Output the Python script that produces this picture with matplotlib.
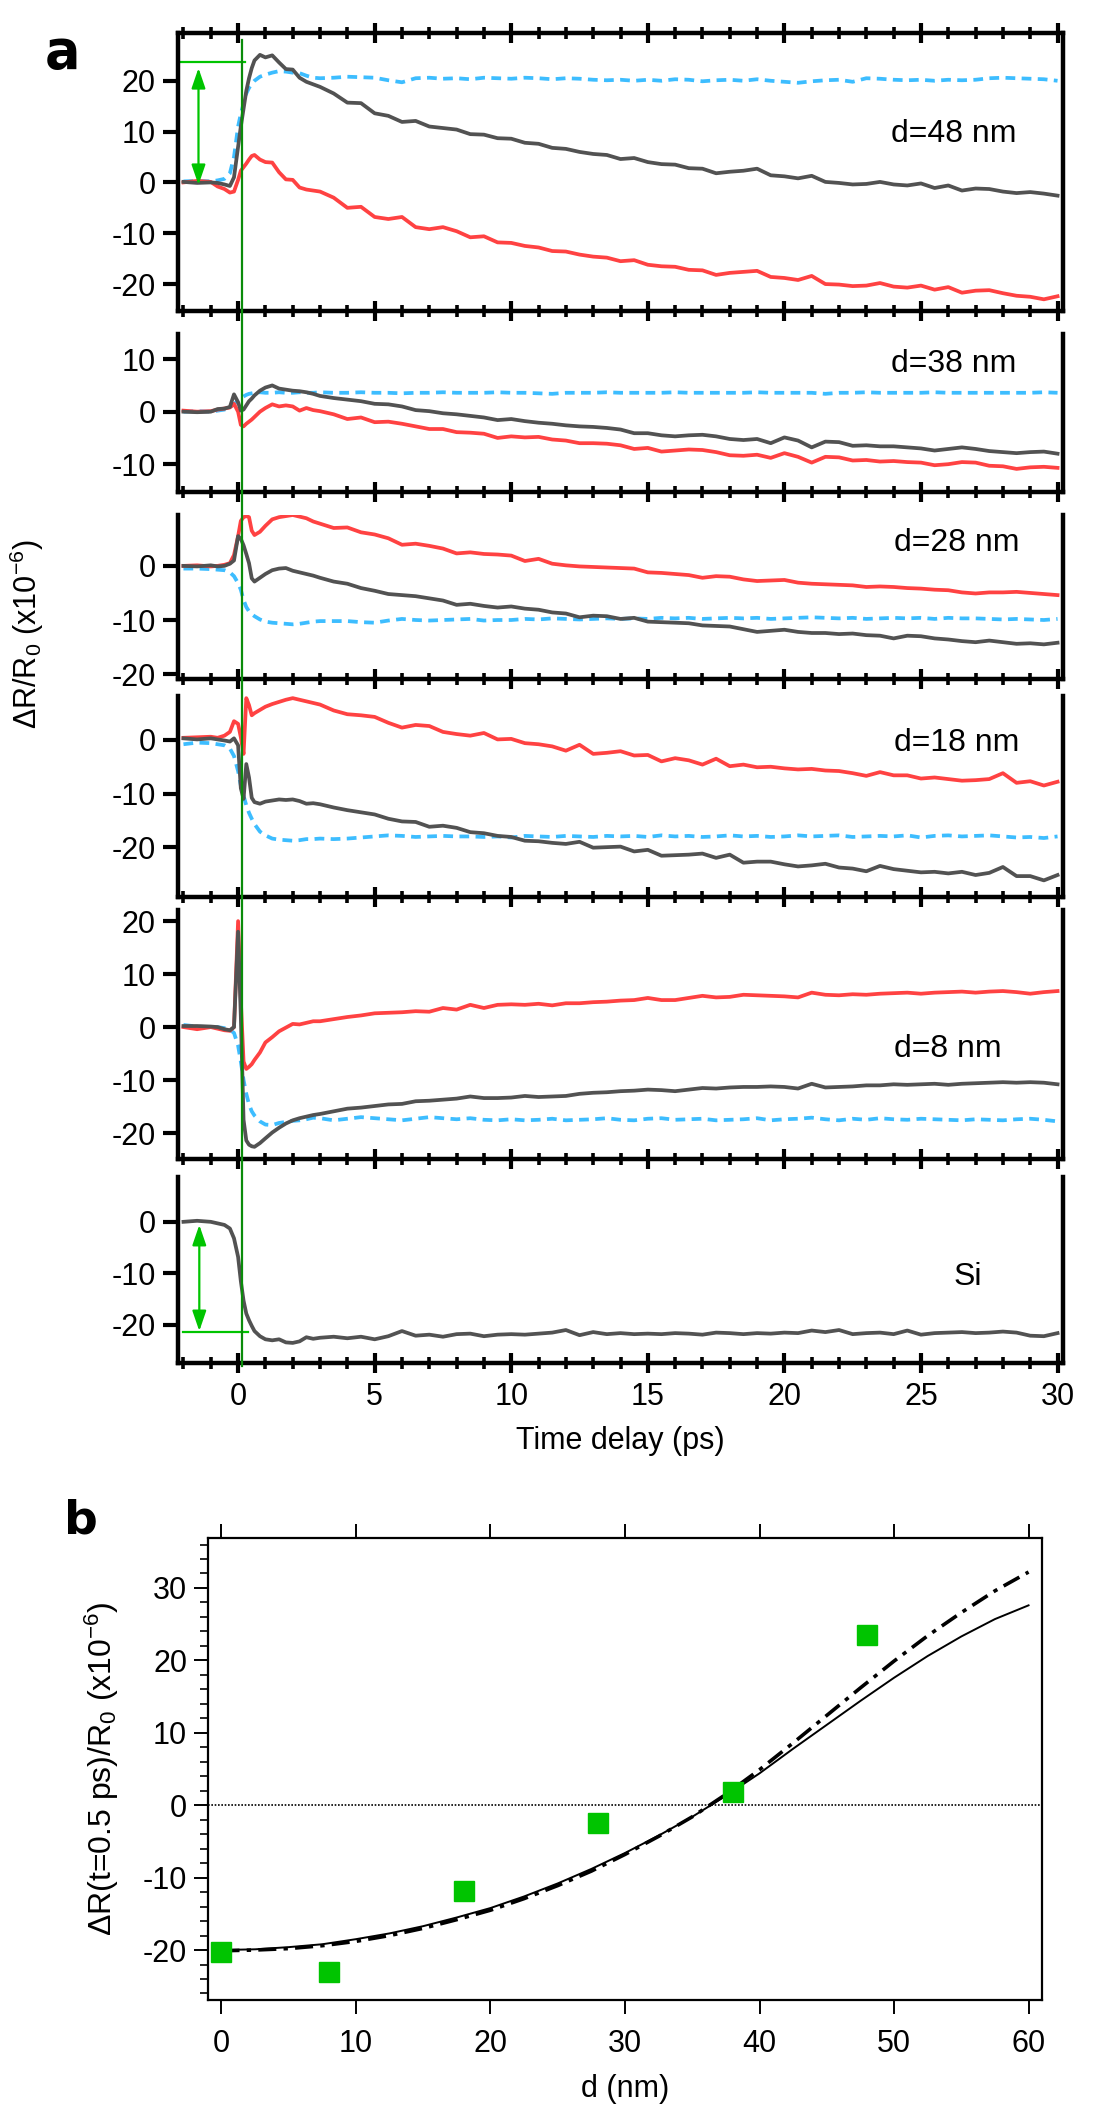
import matplotlib
matplotlib.use("Agg")
from matplotlib import pyplot as plt
from matplotlib.ticker import MultipleLocator
from matplotlib.lines import Line2D
from matplotlib.transforms import blended_transform_factory

plt.rcParams['font.family'] = ['Liberation Sans', 'DejaVu Sans']
plt.rcParams['mathtext.fontset'] = 'custom'
plt.rcParams['mathtext.rm'] = 'Liberation Sans'
plt.rcParams['mathtext.it'] = 'Liberation Sans:italic'
plt.rcParams['axes.unicode_minus'] = False

# ---------------- data, panel a (time traces) ----------------
time_ps = [-2.0, -1.5, -1.0, -0.75, -0.5, -0.3, -0.15, 0.0, 0.1, 0.2, 0.3, 0.4,
           0.5, 0.6, 0.8, 1.0, 1.25, 1.5, 1.75, 2.0, 2.25, 2.5, 2.75, 3.0,
           3.5, 4.0, 4.5, 5.0, 5.5, 6.0, 6.5, 7.0, 7.5, 8.0,
           8.5, 9.0, 9.5, 10.0, 10.5, 11.0, 11.5, 12.0, 12.5, 13.0,
           13.5, 14.0, 14.5, 15.0, 15.5, 16.0, 16.5, 17.0, 17.5, 18.0,
           18.5, 19.0, 19.5, 20.0, 20.5, 21.0, 21.5, 22.0, 22.5, 23.0,
           23.5, 24.0, 24.5, 25.0, 25.5, 26.0, 26.5, 27.0, 27.5, 28.0,
           28.5, 29.0, 29.5, 30.0]

# d = 48 nm
gray_48 = [0.1, -0.1, 0.0, -0.1, -0.4, -0.7, 1.0, 7.0, 11.0, 14.5, 18.0, 20.5,
           22.5, 24.0, 25.1, 24.6, 25.0, 23.6, 22.3, 22.2, 20.6, 19.8, 19.3, 18.8,
           17.5, 15.7, 15.6, 13.6, 13.1, 11.9, 12.1, 11.0, 10.7, 10.4,
           9.5, 9.4, 8.7, 8.6, 7.8, 7.6, 6.8, 6.6, 6.0, 5.6,
           5.4, 4.6, 4.8, 4.0, 3.6, 3.5, 2.8, 2.7, 1.8, 2.1,
           2.3, 2.7, 1.4, 1.2, 0.8, 1.3, 0.1, -0.1, -0.4, -0.3,
           0.1, -0.4, -0.6, -0.2, -1.1, -0.6, -1.6, -1.2, -1.3, -1.8,
           -2.1, -1.9, -2.2, -2.6]
red_48 = [0.0, 0.3, 0.1, -0.8, -1.3, -2.0, -1.8, 0.5, 2.3, 3.0, 3.7, 4.5,
          5.2, 5.4, 4.5, 4.0, 3.9, 2.0, 0.6, 0.5, -1.0, -1.4, -1.6, -1.8,
          -3.0, -5.0, -4.8, -6.8, -7.2, -6.8, -8.8, -9.2, -8.8, -9.6,
          -10.8, -10.6, -11.8, -11.9, -12.5, -12.8, -13.5, -13.6, -14.2, -14.6,
          -14.8, -15.5, -15.3, -16.2, -16.5, -16.6, -17.2, -17.3, -18.2, -17.8,
          -17.6, -17.4, -18.6, -18.8, -19.2, -18.4, -20.0, -20.1, -20.4, -20.3,
          -19.8, -20.5, -20.7, -20.3, -21.1, -20.6, -21.7, -21.3, -21.2, -21.8,
          -22.3, -22.5, -23.0, -22.4]
blue_48 = [0.2, 0.3, 0.2, 0.4, 0.7, 1.8, 5.0, 11.0, 13.5, 15.5, 17.5, 18.6,
           19.4, 20.0, 20.8, 21.2, 21.6, 21.9, 21.8, 21.6, 21.5, 21.0, 20.6, 20.5,
           20.6, 20.8, 20.7, 20.6, 20.1, 19.7, 20.5, 20.6, 20.4, 20.5,
           20.3, 20.6, 20.5, 20.4, 20.6, 20.5, 20.3, 20.5, 20.4, 20.2,
           20.1, 20.2, 20.0, 20.2, 20.0, 20.3, 20.2, 19.9, 20.1, 20.2,
           20.0, 20.3, 20.0, 19.8, 19.6, 19.9, 20.1, 20.2, 19.8, 20.5,
           20.4, 20.2, 20.1, 20.2, 20.0, 20.2, 20.1, 20.2, 20.5, 20.6,
           20.5, 20.4, 20.3, 20.0]

# d = 38 nm
gray_38 = [0.0, -0.1, 0.0, 0.5, 0.6, 0.9, 3.3, 1.8, 0.2, 0.4, 1.2, 2.0,
           2.5, 3.1, 4.0, 4.6, 5.0, 4.4, 4.2, 4.0, 3.9, 3.7, 3.4, 3.0,
           2.6, 2.3, 2.0, 1.5, 1.4, 1.0, 0.3, 0.1, -0.3, -0.5,
           -0.8, -1.1, -1.6, -1.4, -1.8, -2.1, -2.3, -2.6, -2.8, -2.9,
           -3.1, -3.4, -4.1, -4.1, -4.5, -4.7, -4.5, -4.4, -4.7, -5.2,
           -5.4, -5.2, -6.0, -4.9, -5.5, -6.8, -5.7, -5.8, -6.5, -6.4,
           -6.6, -6.6, -6.8, -7.0, -7.4, -7.1, -6.8, -7.1, -7.5, -7.7,
           -7.9, -7.7, -7.6, -8.0]
red_38 = [0.2, 0.0, 0.1, 0.4, 0.6, 0.8, 1.5, 0.0, -2.5, -2.8, -2.3, -1.9,
          -1.5, -1.0, 0.0, 0.7, 1.4, 1.0, 1.2, 1.0, 0.2, 0.7, 0.3, 0.1,
          -0.5, -1.4, -1.1, -2.0, -1.9, -2.3, -2.8, -3.3, -3.3, -3.9,
          -4.0, -4.2, -5.0, -4.7, -4.9, -4.8, -5.3, -5.5, -6.0, -6.0,
          -6.1, -6.4, -7.1, -6.9, -7.6, -7.4, -7.2, -7.3, -7.7, -8.3,
          -8.4, -8.2, -8.8, -7.9, -8.6, -9.7, -8.6, -8.7, -9.3, -9.2,
          -9.5, -9.4, -9.6, -9.7, -10.2, -10.0, -9.6, -9.7, -10.3, -10.4,
          -10.9, -10.6, -10.5, -10.7]
blue_38 = [0.0, 0.1, 0.0, 0.2, 0.4, 0.8, 1.4, 2.2, 2.6, 2.9, 3.2, 3.4,
           3.5, 3.6, 3.7, 3.6, 3.6, 3.7, 3.6, 3.6, 3.7, 3.6, 3.6, 3.7,
           3.6, 3.6, 3.7, 3.6, 3.6, 3.5, 3.6, 3.6, 3.7, 3.6,
           3.6, 3.6, 3.7, 3.6, 3.6, 3.5, 3.4, 3.6, 3.6, 3.6,
           3.7, 3.6, 3.6, 3.6, 3.6, 3.7, 3.6, 3.6, 3.6, 3.6,
           3.6, 3.7, 3.6, 3.6, 3.6, 3.6, 3.4, 3.6, 3.6, 3.7,
           3.6, 3.6, 3.6, 3.6, 3.7, 3.6, 3.6, 3.6, 3.6, 3.6,
           3.6, 3.6, 3.7, 3.6]

# d = 28 nm
gray_28 = [0.0, -0.1, 0.1, -0.1, 0.0, 0.4, 1.0, 5.5, 5.0, 3.8, 2.2, 0.5,
           -2.3, -2.9, -2.2, -1.5, -0.8, -0.5, -0.4, -0.9, -1.2, -1.5, -1.8, -2.2,
           -2.9, -3.3, -4.1, -4.6, -5.2, -5.4, -5.6, -6.0, -6.4, -7.2,
           -7.0, -7.4, -7.7, -7.5, -7.9, -8.1, -8.6, -8.8, -9.5, -9.2,
           -9.3, -9.8, -9.6, -10.3, -10.4, -10.5, -10.6, -11.0, -11.1, -11.2,
           -11.7, -12.2, -12.0, -11.8, -12.2, -12.4, -12.4, -12.6, -12.5, -12.8,
           -12.9, -13.4, -12.9, -13.0, -13.4, -13.6, -13.9, -14.1, -13.8, -14.1,
           -14.4, -14.3, -14.5, -14.2]
red_28 = [0.0, 0.1, -0.1, 0.0, 0.2, 0.5, 2.0, 5.5, 8.3, 9.0, 9.2, 9.0,
          6.5, 5.7, 6.3, 7.4, 8.6, 9.0, 9.2, 9.4, 9.1, 8.8, 8.2, 7.8,
          7.0, 7.1, 6.2, 5.8, 5.1, 3.9, 4.1, 3.7, 3.2, 2.3,
          2.5, 2.2, 2.1, 1.9, 0.9, 1.3, 0.4, 0.1, -0.1, -0.2,
          -0.3, -0.4, -0.5, -1.2, -1.3, -1.5, -1.7, -2.2, -1.9, -2.0,
          -2.5, -2.8, -2.7, -2.6, -3.1, -3.3, -3.4, -3.5, -3.6, -3.9,
          -3.8, -3.9, -4.1, -4.2, -4.4, -4.5, -4.9, -5.1, -4.9, -4.9,
          -4.8, -5.0, -5.2, -5.4]
blue_28 = [-0.5, -0.5, -0.6, -0.7, -0.8, -1.2, -1.9, -3.2, -4.4, -6.3, -7.6, -8.4,
           -8.9, -9.3, -9.9, -10.3, -10.5, -10.6, -10.7, -10.8, -10.7, -10.5, -10.3, -10.2,
           -10.2, -10.2, -10.4, -10.5, -10.1, -9.8, -10.0, -10.1, -10.0, -9.9,
           -9.8, -10.1, -10.0, -10.0, -9.8, -9.9, -9.7, -9.8, -9.9, -9.8,
           -9.7, -9.8, -9.7, -9.8, -9.6, -9.7, -9.6, -9.8, -9.7, -9.6,
           -9.7, -9.6, -9.8, -9.7, -9.6, -9.5, -9.6, -9.7, -9.6, -9.8,
           -9.7, -9.6, -9.7, -9.6, -9.8, -9.6, -9.7, -9.7, -9.8, -9.9,
           -9.8, -9.9, -10.0, -9.8]

# d = 18 nm
gray_18 = [0.3, 0.1, 0.3, 0.1, -0.1, -0.3, 0.3, -1.0, -9.0, -11.0, -4.5, -7.0,
           -10.8, -11.6, -11.9, -11.5, -11.3, -11.1, -11.2, -11.1, -11.4, -11.9, -11.8, -12.0,
           -12.6, -13.1, -13.5, -13.9, -14.7, -15.2, -15.3, -16.2, -16.0, -16.4,
           -17.2, -17.4, -17.9, -18.1, -18.8, -18.9, -19.2, -19.4, -19.0, -20.1,
           -20.0, -19.9, -20.8, -20.5, -21.6, -21.5, -21.4, -21.2, -22.0, -21.4,
           -22.9, -22.7, -22.7, -23.2, -23.6, -23.4, -23.1, -23.8, -24.0, -24.5,
           -23.5, -24.1, -24.4, -24.7, -24.6, -24.9, -24.6, -25.2, -24.8, -23.7,
           -25.4, -25.4, -26.2, -25.2]
red_18 = [0.4, 0.5, 0.6, 0.4, 0.8, 1.5, 3.5, 3.0, 0.5, -2.6, 7.8, 6.5,
          4.6, 5.0, 5.6, 6.2, 6.7, 7.1, 7.5, 7.8, 7.5, 7.2, 6.9, 6.6,
          5.5, 4.8, 4.6, 4.3, 3.2, 2.3, 2.8, 2.6, 1.5, 1.1,
          0.8, 1.3, 0.1, 0.2, -0.6, -0.8, -1.2, -2.0, -0.9, -2.6,
          -2.4, -2.1, -2.9, -2.8, -4.0, -3.4, -3.8, -4.6, -3.5, -4.9,
          -4.6, -5.1, -5.0, -5.3, -5.5, -5.4, -5.7, -5.8, -6.2, -6.7,
          -6.0, -6.6, -6.6, -7.2, -7.0, -7.3, -7.6, -7.5, -7.3, -6.2,
          -8.0, -7.7, -8.5, -7.8]
blue_18 = [-0.8, -0.5, -0.6, -0.8, -1.0, -1.6, -3.0, -5.8, -8.5, -10.4, -12.2, -13.6,
           -14.7, -15.7, -17.1, -17.8, -18.4, -18.6, -18.7, -18.8, -18.7, -18.5, -18.5, -18.4,
           -18.5, -18.4, -18.2, -18.0, -17.8, -17.9, -18.1, -18.0, -17.9, -18.0,
           -18.0, -18.1, -18.0, -18.2, -17.9, -18.0, -18.1, -17.9, -18.0, -18.1,
           -17.9, -18.0, -17.9, -18.1, -17.8, -18.0, -17.9, -18.1, -18.0, -17.8,
           -18.0, -17.9, -18.1, -18.0, -17.8, -18.0, -17.9, -17.8, -18.1, -18.0,
           -17.9, -18.0, -17.8, -18.2, -17.9, -17.8, -18.0, -17.9, -17.8, -18.0,
           -18.2, -18.1, -18.3, -18.0]

# d = 8 nm
gray_8 = [0.2, 0.2, 0.1, 0.0, -0.4, -0.6, 0.0, 18.0, 2.0, -17.5, -21.4, -22.2,
          -22.5, -22.6, -21.9, -21.0, -19.9, -19.0, -18.2, -17.6, -17.2, -16.9, -16.6, -16.4,
          -15.9, -15.4, -15.2, -14.9, -14.6, -14.5, -14.0, -13.9, -13.7, -13.5,
          -13.1, -13.4, -13.4, -13.3, -13.0, -13.2, -13.1, -13.0, -12.6, -12.4,
          -12.3, -12.1, -12.0, -11.8, -11.9, -12.1, -11.8, -11.5, -11.6, -11.4,
          -11.3, -11.3, -11.2, -11.3, -11.6, -10.7, -11.4, -11.3, -11.2, -11.0,
          -11.0, -10.8, -10.9, -10.8, -10.7, -10.9, -10.7, -10.6, -10.5, -10.4,
          -10.5, -10.4, -10.5, -10.8]
red_8 = [0.0, -0.4, 0.0, -0.3, -0.6, -0.7, 0.0, 20.0, 5.0, -6.5, -7.9, -7.5,
         -7.0, -6.2, -4.8, -2.9, -1.9, -0.8, -0.1, 0.6, 0.5, 0.8, 1.1, 1.1,
         1.5, 1.9, 2.2, 2.6, 2.7, 2.8, 3.0, 2.9, 3.6, 3.3,
         4.2, 3.6, 4.2, 4.3, 4.2, 4.4, 4.1, 4.5, 4.5, 4.7,
         4.8, 5.0, 5.1, 5.5, 5.1, 5.1, 5.5, 5.9, 5.6, 5.7,
         6.1, 6.0, 5.9, 5.8, 5.6, 6.5, 6.1, 6.0, 6.2, 6.1,
         6.3, 6.4, 6.5, 6.3, 6.5, 6.6, 6.7, 6.5, 6.7, 6.8,
         6.6, 6.3, 6.6, 6.8]
blue_8 = [0.4, 0.1, 0.0, 0.0, -0.2, -0.5, -1.1, -3.5, -6.5, -10.0, -12.6, -14.6,
          -15.9, -16.7, -17.8, -18.4, -18.5, -18.1, -17.9, -17.7, -17.6, -17.4, -17.1, -17.2,
          -17.6, -17.3, -17.0, -17.2, -17.4, -17.6, -17.3, -17.0, -17.2, -17.4,
          -17.2, -17.5, -17.6, -17.4, -17.6, -17.5, -17.3, -17.6, -17.5, -17.4,
          -17.2, -17.5, -17.6, -17.3, -17.2, -17.5, -17.4, -17.3, -17.6, -17.5,
          -17.4, -17.2, -17.6, -17.4, -17.3, -17.1, -17.4, -17.6, -17.3, -17.5,
          -17.2, -17.4, -17.5, -17.3, -17.4, -17.5, -17.6, -17.4, -17.5, -17.6,
          -17.4, -17.3, -17.5, -17.8]

# bare Si
gray_si = [0.0, 0.2, 0.0, -0.3, -0.6, -1.3, -3.2, -6.8, -11.5, -15.3, -17.8, -19.1,
           -20.2, -21.2, -22.2, -22.8, -23.0, -22.8, -23.4, -23.5, -23.2, -22.4, -22.7, -22.5,
           -22.3, -22.6, -22.3, -22.8, -22.2, -21.2, -22.1, -21.9, -22.3, -21.8,
           -21.7, -22.2, -21.9, -21.8, -21.9, -21.7, -21.5, -21.0, -22.0, -21.4,
           -21.8, -21.6, -21.8, -21.7, -21.8, -21.6, -21.7, -21.9, -21.5, -21.6,
           -21.8, -21.6, -21.7, -21.5, -21.6, -21.1, -21.4, -21.0, -21.8, -21.6,
           -21.5, -21.8, -21.1, -21.9, -21.6, -21.5, -21.4, -21.6, -21.5, -21.3,
           -21.5, -22.1, -22.2, -21.6]

panel_labels = ['d=48 nm', 'd=38 nm', 'd=28 nm', 'd=18 nm', 'd=8 nm', 'Si']
panel_gray = [gray_48, gray_38, gray_28, gray_18, gray_8, gray_si]
panel_red = [red_48, red_38, red_28, red_18, red_8, None]
panel_blue = [blue_48, blue_38, blue_28, blue_18, blue_8, None]
panel_ylims = [(-25.3, 29.4), (-15.3, 14.8), (-20.9, 9.4),
               (-29.3, 8.2), (-24.9, 22.1), (-27.4, 8.7)]
label_pos = [(26.2, 9.5), (26.2, 9.0), (26.3, 4.3), (26.3, -0.6), (26.0, -4.2), (26.7, -10.8)]

# ---------------- data, panel b ----------------
d_meas = [0, 8, 18, 28, 38, 48]
dr_meas = [-20.3, -23.0, -11.8, -2.5, 1.8, 23.5]
d_fit = [0, 2.5, 5, 7.5, 10, 12.5, 15, 17.5, 20, 22.5, 25, 27.5, 30, 32.5,
         35, 37.5, 40, 42.5, 45, 47.5, 50, 52.5, 55, 57.5, 60]
fit_solid = [-20.0, -19.9, -19.6, -19.2, -18.5, -17.7, -16.7, -15.5, -14.2, -12.6,
             -10.8, -8.8, -6.6, -4.2, -1.6, 1.3, 4.4, 7.8, 11.1, 14.4,
             17.6, 20.6, 23.3, 25.7, 27.6]
fit_dashdot = [-20.1, -20.0, -19.8, -19.4, -18.8, -18.0, -17.0, -15.8, -14.5, -12.9,
               -11.1, -9.1, -6.8, -4.3, -1.6, 1.5, 4.9, 8.6, 12.4, 16.2,
               19.9, 23.4, 26.6, 29.6, 32.2]

GRAY = '#525252'
RED = '#FF4242'
BLUE = '#3DBDFF'
GREEN_LINE = '#0A8C0A'
GREEN = '#00C400'

W, H = 1098, 2116


def px_box(left, right, top, bottom):
    return [left / W, 1 - bottom / H, (right - left) / W, (bottom - top) / H]


def main():
    fig = plt.figure(figsize=(W / 100, H / 100), dpi=100)

    rows = [(33, 311), (334, 492), (515, 679), (696, 897), (910, 1159), (1177, 1363)]
    axes = []
    for i, (top, bottom) in enumerate(rows):
        ax = fig.add_axes(px_box(178, 1063, top, bottom))
        axes.append(ax)
        if panel_blue[i] is not None:
            ax.plot(time_ps, panel_blue[i], color=BLUE, lw=2.7, ls=(0, (2.6, 1.7)))
        if panel_red[i] is not None:
            ax.plot(time_ps, panel_red[i], color=RED, lw=2.7)
        ax.plot(time_ps, panel_gray[i], color=GRAY, lw=2.7)

        ax.set_xlim(-2.2, 30.2)
        ax.set_ylim(*panel_ylims[i])
        ax.xaxis.set_major_locator(MultipleLocator(5))
        ax.xaxis.set_minor_locator(MultipleLocator(1))
        ax.yaxis.set_major_locator(MultipleLocator(10))
        for s in ax.spines.values():
            s.set_linewidth(3.2)
        ax.spines['top'].set_visible(i == 0)
        ax.tick_params(axis='x', which='major', direction='inout', length=15, width=3,
                       top=(i == 0), bottom=True, labelbottom=(i == 5),
                       labelsize=22, pad=6)
        ax.tick_params(axis='x', which='minor', direction='inout', length=8, width=2.6,
                       top=(i == 0), bottom=True)
        ax.tick_params(axis='y', which='major', direction='out', length=11, width=3,
                       labelsize=22, pad=5)
        ax.text(label_pos[i][0], label_pos[i][1], panel_labels[i], fontsize=23,
                ha='center', va='center')

    axes[-1].set_xlabel('Time delay (ps)', fontsize=22, labelpad=10)

    # green markers of the step height
    axes[0].plot([-2.1, 0.25], [23.6, 23.6], color=GREEN, lw=1.6)
    axes[0].annotate('', xy=(-1.45, -0.5), xytext=(-1.45, 22.5),
                     arrowprops=dict(arrowstyle='<|-|>,head_length=0.35,head_width=0.12',
                                     mutation_scale=35, color=GREEN, lw=1.6,
                                     shrinkA=0, shrinkB=0))
    axes[5].plot([-2.0, 0.35], [-21.4, -21.4], color=GREEN, lw=1.6)
    axes[5].annotate('', xy=(-1.42, -0.6), xytext=(-1.42, -21.2),
                     arrowprops=dict(arrowstyle='<|-|>,head_length=0.35,head_width=0.12',
                                     mutation_scale=35, color=GREEN, lw=1.6,
                                     shrinkA=0, shrinkB=0))

    trans = blended_transform_factory(axes[0].transData, fig.transFigure)
    fig.add_artist(Line2D([0.15, 0.15], [1 - 40 / H, 1 - 1366 / H], transform=trans,
                          color=GREEN_LINE, lw=1.6))

    fig.text(27 / W, 1 - 634 / H, r'$\Delta$R/R$_0$ (x10$^{-6}$)', rotation=90,
             fontsize=22, ha='center', va='center')
    fig.text(45 / W, 1 - 68 / H, 'a', fontsize=38, fontweight='bold',
             family='DejaVu Sans', ha='left', va='baseline')
    fig.text(64 / W, 1 - 1533 / H, 'b', fontsize=34, fontweight='bold',
             family='DejaVu Sans', ha='left', va='baseline')

    # ---------------- panel b ----------------
    axb = fig.add_axes(px_box(208, 1042, 1538, 2000))
    axb.axhline(0, color='k', lw=1.2, ls=(0, (1, 1)))
    axb.plot(d_fit, fit_solid, color='k', lw=1.4)
    axb.plot(d_fit, fit_dashdot, color='k', lw=2.6, ls=(0, (5, 2, 1.2, 2)))
    axb.plot(d_meas, dr_meas, 's', color=GREEN, ms=14, mec=GREEN)
    axb.set_xlim(-1.0, 61.0)
    axb.set_ylim(-26.9, 36.9)
    axb.xaxis.set_major_locator(MultipleLocator(10))
    axb.yaxis.set_major_locator(MultipleLocator(10))
    axb.yaxis.set_minor_locator(MultipleLocator(2))
    for s in axb.spines.values():
        s.set_linewidth(1.6)
    axb.tick_params(axis='x', which='major', direction='out', length=10, width=1.4,
                    top=True, labeltop=False, labelsize=22, pad=11)
    axb.tick_params(axis='y', which='major', direction='out', length=10, width=1.4,
                    labelsize=22, pad=5)
    axb.tick_params(axis='y', which='minor', direction='out', length=6, width=1.2)
    axb.set_xlabel('d (nm)', fontsize=22, labelpad=11)
    axb.set_ylabel(r'$\Delta$R(t=0.5 ps)/R$_0$ (x10$^{-6}$)', fontsize=23, labelpad=16)

    fig.savefig('out.png', dpi=100)
    plt.close(fig)


if __name__ == '__main__':
    main()
